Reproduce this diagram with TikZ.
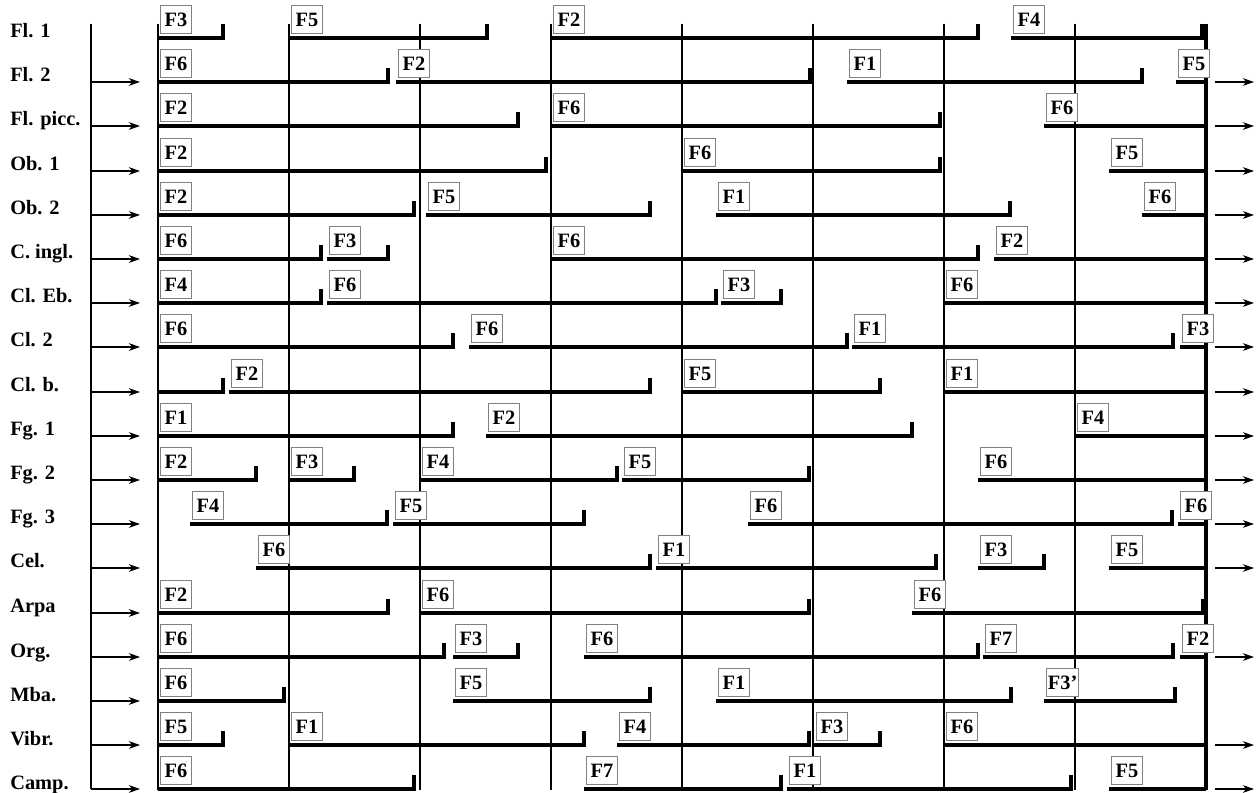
\documentclass[tikz,border=0pt]{standalone}
\usepackage{fontspec}
\setmainfont{Liberation Serif}
\usetikzlibrary{arrows.meta}

\begin{document}
\begin{tikzpicture}[
    x=0.025cm, y=-0.025cm,
    inst/.style={anchor=base west, inner sep=0pt, font=\fontsize{14.5}{16}\selectfont\bfseries},
    tag/.style={draw=gray, line width=0.7pt, fill=white, anchor=south west,
                xshift=0.05cm, yshift=0.09cm, minimum width=0.77cm, minimum height=0.72cm,
                inner sep=1pt, font=\fontsize{14.5}{16}\selectfont\bfseries},
    seg/.style={line width=2.8pt, line join=miter},
    bar/.style={line width=2.1pt},
    arr/.style={-{Stealth[length=8pt,width=5.5pt]}, line width=1.1pt}
]
\useasboundingbox (0,0) rectangle (1258,793);

% --- instruments ---
\node[inst] (fla)  at (10,38)  {Fl. 1};
\node[inst] (flb)  at (10,82)  {Fl. 2};
\node[inst] (picc) at (10,126) {Fl. picc.};
\node[inst] (oba)  at (10,171) {Ob. 1};
\node[inst] (obb)  at (10,215) {Ob. 2};
\node[inst] (cing) at (10,259) {C. ingl.};
\node[inst] (cleb) at (10,303) {Cl. Eb.};
\node[inst] (clb)  at (10,347) {Cl. 2};
\node[inst] (clbs) at (10,392) {Cl. b.};
\node[inst] (fga)  at (10,436) {Fg. 1};
\node[inst] (fgb)  at (10,480) {Fg. 2};
\node[inst] (fgc)  at (10,524) {Fg. 3};
\node[inst] (cel)  at (10,568) {Cel.};
\node[inst] (arpa) at (10,613) {Arpa};
\node[inst] (org)  at (10,657) {Org.};
\node[inst] (mba)  at (10,701) {Mba.};
\node[inst] (vib)  at (10,745) {Vibr.};
\node[inst] (camp) at (10,789) {Camp.};

% --- frame ---
\draw[bar] (91,24) -- (91,789);
\foreach \x in {158,289,420,551,682,813,944,1075}
    \draw[bar] (\x,24) -- (\x,790);
\draw[line width=2.8pt] (1206,24) -- (1206,790);

% --- arrows in / out ---
\foreach \y in {82,126,171,215,259,303,347,392,436,480,524,568,613,657,701,745,789}
    \draw[arr] (91,\y) -- (140,\y);
\foreach \y in {82,126,171,215,259,303,347,392,436,480,524,568,657,745,789}
    \draw[arr] (1215,\y) -- (1254,\y);

% --- Fl. 1 ---
\draw[seg] (158,38) node[tag] (fla1) {F3} -- (223,38) -- ++(0,-14);
\draw[seg] (289,38) node[tag] (fla2) {F5} -- (487,38) -- ++(0,-14);
\draw[seg] (551,38) node[tag] (fla3) {F2} -- (978,38) -- ++(0,-14);
\draw[seg] (1011,38) node[tag] (fla4) {F4} -- (1202,38) -- ++(0,-14);

% --- Fl. 2 ---
\draw[seg] (158,82) node[tag] (flb1) {F6} -- (388,82) -- ++(0,-14);
\draw[seg] (396,82) node[tag] (flb2) {F2} -- (810,82) -- ++(0,-14);
\draw[seg] (847,82) node[tag] (flb3) {F1} -- (1142,82) -- ++(0,-14);
\draw[seg] (1176,82) node[tag] (flb4) {F5} -- (1206,82);

% --- Fl. picc. ---
\draw[seg] (158,126) node[tag] (picc1) {F2} -- (518,126) -- ++(0,-14);
\draw[seg] (551,126) node[tag] (picc2) {F6} -- (940,126) -- ++(0,-14);
\draw[seg] (1044,126) node[tag] (picc3) {F6} -- (1206,126);

% --- Ob. 1 ---
\draw[seg] (158,171) node[tag] (oba1) {F2} -- (546,171) -- ++(0,-14);
\draw[seg] (682,171) node[tag] (oba2) {F6} -- (940,171) -- ++(0,-14);
\draw[seg] (1109,171) node[tag] (oba3) {F5} -- (1206,171);

% --- Ob. 2 ---
\draw[seg] (158,215) node[tag] (obb1) {F2} -- (414,215) -- ++(0,-14);
\draw[seg] (426,215) node[tag] (obb2) {F5} -- (650,215) -- ++(0,-14);
\draw[seg] (716,215) node[tag] (obb3) {F1} -- (1010,215) -- ++(0,-14);
\draw[seg] (1142,215) node[tag] (obb4) {F6} -- (1206,215);

% --- C. ingl. ---
\draw[seg] (158,259) node[tag] (cing1) {F6} -- (321,259) -- ++(0,-14);
\draw[seg] (327,259) node[tag] (cing2) {F3} -- (388,259) -- ++(0,-14);
\draw[seg] (551,259) node[tag] (cing3) {F6} -- (978,259) -- ++(0,-14);
\draw[seg] (994,259) node[tag] (cing4) {F2} -- (1206,259);

% --- Cl. Eb. ---
\draw[seg] (158,303) node[tag] (cleb1) {F4} -- (321,303) -- ++(0,-14);
\draw[seg] (327,303) node[tag] (cleb2) {F6} -- (716,303) -- ++(0,-14);
\draw[seg] (721,303) node[tag] (cleb3) {F3} -- (781,303) -- ++(0,-14);
\draw[seg] (944,303) node[tag] (cleb4) {F6} -- (1206,303);

% --- Cl. 2 ---
\draw[seg] (158,347) node[tag] (clb1) {F6} -- (453,347) -- ++(0,-14);
\draw[seg] (469,347) node[tag] (clb2) {F6} -- (847,347) -- ++(0,-14);
\draw[seg] (852,347) node[tag] (clb3) {F1} -- (1173,347) -- ++(0,-14);
\draw[seg] (1180,347) node[tag] (clb4) {F3} -- (1206,347);

% --- Cl. b. ---
\draw[seg] (158,392) -- (223,392) -- ++(0,-14);
\draw[seg] (229,392) node[tag] (clbs1) {F2} -- (650,392) -- ++(0,-14);
\draw[seg] (682,392) node[tag] (clbs2) {F5} -- (880,392) -- ++(0,-14);
\draw[seg] (944,392) node[tag] (clbs3) {F1} -- (1206,392);

% --- Fg. 1 ---
\draw[seg] (158,436) node[tag] (fga1) {F1} -- (453,436) -- ++(0,-14);
\draw[seg] (486,436) node[tag] (fga2) {F2} -- (912,436) -- ++(0,-14);
\draw[seg] (1075,436) node[tag] (fga3) {F4} -- (1206,436);

% --- Fg. 2 ---
\draw[seg] (158,480) node[tag] (fgb1) {F2} -- (256,480) -- ++(0,-14);
\draw[seg] (289,480) node[tag] (fgb2) {F3} -- (354,480) -- ++(0,-14);
\draw[seg] (420,480) node[tag] (fgb3) {F4} -- (617,480) -- ++(0,-14);
\draw[seg] (622,480) node[tag] (fgb4) {F5} -- (809,480) -- ++(0,-14);
\draw[seg] (978,480) node[tag] (fgb5) {F6} -- (1206,480);

% --- Fg. 3 ---
\draw[seg] (190,524) node[tag] (fgc1) {F4} -- (387,524) -- ++(0,-14);
\draw[seg] (393,524) node[tag] (fgc2) {F5} -- (584,524) -- ++(0,-14);
\draw[seg] (748,524) node[tag] (fgc3) {F6} -- (1172,524) -- ++(0,-14);
\draw[seg] (1178,524) node[tag] (fgc4) {F6} -- (1206,524);

% --- Cel. ---
\draw[seg] (256,568) node[tag] (cel1) {F6} -- (650,568) -- ++(0,-14);
\draw[seg] (656,568) node[tag] (cel2) {F1} -- (936,568) -- ++(0,-14);
\draw[seg] (978,568) node[tag] (cel3) {F3} -- (1044,568) -- ++(0,-14);
\draw[seg] (1109,568) node[tag] (cel4) {F5} -- (1206,568);

% --- Arpa ---
\draw[seg] (158,613) node[tag] (arpa1) {F2} -- (388,613) -- ++(0,-14);
\draw[seg] (420,613) node[tag] (arpa2) {F6} -- (809,613) -- ++(0,-14);
\draw[seg] (912,613) node[tag] (arpa3) {F6} -- (1203,613) -- ++(0,-14);

% --- Org. ---
\draw[seg] (158,657) node[tag] (org1) {F6} -- (444,657) -- ++(0,-14);
\draw[seg] (453,657) node[tag] (org2) {F3} -- (518,657) -- ++(0,-14);
\draw[seg] (584,657) node[tag] (org3) {F6} -- (978,657) -- ++(0,-14);
\draw[seg] (983,657) node[tag] (org4) {F7} -- (1173,657) -- ++(0,-14);
\draw[seg] (1180,657) node[tag] (org5) {F2} -- (1206,657);

% --- Mba. ---
\draw[seg] (158,701) node[tag] (mba1) {F6} -- (284,701) -- ++(0,-14);
\draw[seg] (453,701) node[tag] (mba2) {F5} -- (650,701) -- ++(0,-14);
\draw[seg] (716,701) node[tag] (mba3) {F1} -- (1011,701) -- ++(0,-14);
\draw[seg] (1044,701) node[tag] (mba4) {F3’} -- (1175,701) -- ++(0,-14);

% --- Vibr. ---
\draw[seg] (158,745) node[tag] (vib1) {F5} -- (223,745) -- ++(0,-14);
\draw[seg] (289,745) node[tag] (vib2) {F1} -- (584,745) -- ++(0,-14);
\draw[seg] (617,745) node[tag] (vib3) {F4} -- (809,745) -- ++(0,-14);
\draw[seg] (814,745) node[tag] (vib4) {F3} -- (880,745) -- ++(0,-14);
\draw[seg] (944,745) node[tag] (vib5) {F6} -- (1206,745);

% --- Camp. ---
\draw[seg] (158,789) node[tag] (camp1) {F6} -- (414,789) -- ++(0,-14);
\draw[seg] (584,789) node[tag] (camp2) {F7} -- (781,789) -- ++(0,-14);
\draw[seg] (787,789) node[tag] (camp3) {F1} -- (1071,789) -- ++(0,-14);
\draw[seg] (1109,789) node[tag] (camp4) {F5} -- (1206,789);

\end{tikzpicture}
\end{document}
